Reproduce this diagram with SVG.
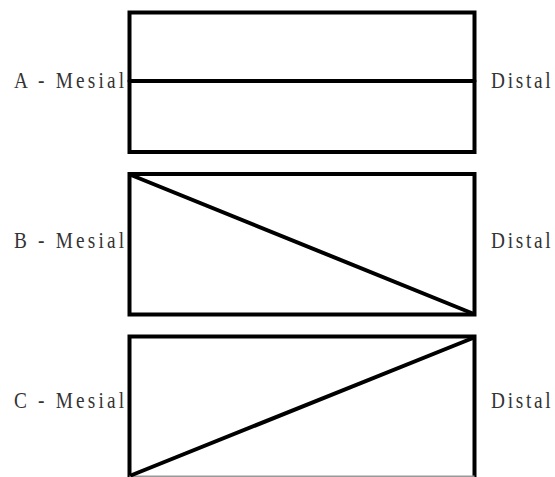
<svg xmlns="http://www.w3.org/2000/svg" width="555" height="477" viewBox="0 0 555 477">
  <style>
    .box { fill: none; stroke: #000; stroke-width: 4; }
    .div { stroke: #000; stroke-width: 4; stroke-linecap: round; }
    .lbl { font-family: "Liberation Serif", "Times New Roman", serif; font-size: 23px; fill: #333; }
  </style>
  <rect width="555" height="477" fill="#fff"/>
  <g id="row-a">
    <rect class="box" x="129.5" y="12.5" width="345" height="139.5"/>
    <text class="lbl" transform="translate(14 88) scale(0.84 1)" x="0" y="0" textLength="131" lengthAdjust="spacing">A - Mesial</text>
    <text class="lbl" transform="translate(491 88) scale(0.84 1)" x="0" y="0" textLength="71" lengthAdjust="spacing">Distal</text>
  </g>
  <g id="row-b">
    <rect class="box" x="129.5" y="174" width="345" height="140.5"/>
    <text class="lbl" transform="translate(14 248) scale(0.84 1)" x="0" y="0" textLength="131" lengthAdjust="spacing">B - Mesial</text>
    <text class="lbl" transform="translate(491 248) scale(0.84 1)" x="0" y="0" textLength="71" lengthAdjust="spacing">Distal</text>
  </g>
  <g id="row-c">
    <path class="box" d="M129.5 477 V336.5 H474.5 V477"/>
    <line x1="129.5" y1="476.3" x2="474.5" y2="476.3" stroke="#999" stroke-width="1.5"/>
    <text class="lbl" transform="translate(14 408) scale(0.84 1)" x="0" y="0" textLength="131" lengthAdjust="spacing">C - Mesial</text>
    <text class="lbl" transform="translate(491 408) scale(0.84 1)" x="0" y="0" textLength="71" lengthAdjust="spacing">Distal</text>
  </g>
  <g id="connectors">
    <line class="div" x1="129.5" y1="81" x2="474.5" y2="81"/>
    <line class="div" x1="131" y1="175" x2="474" y2="314"/>
    <line class="div" x1="132" y1="475" x2="473" y2="338"/>
  </g>
</svg>
